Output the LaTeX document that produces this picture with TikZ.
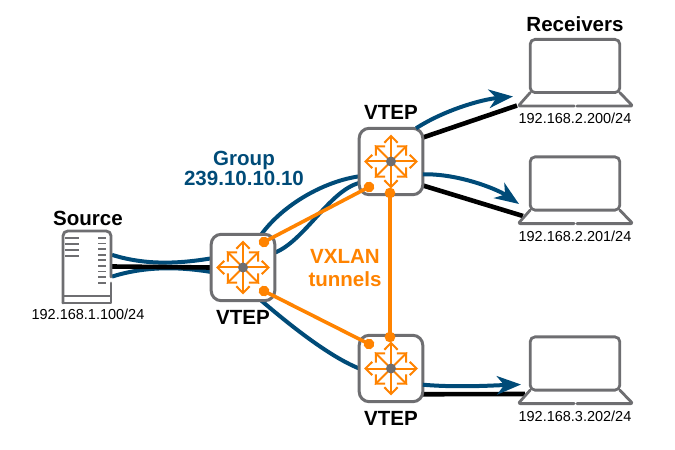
\documentclass[tikz,border=0pt]{standalone}
\usepackage{xcolor}
\usepackage{fontspec}
\setmainfont{Liberation Sans}
\usetikzlibrary{arrows.meta,calc,backgrounds}
\definecolor{mcastblue}{RGB}{0, 75, 120}
\definecolor{tunnelorange}{RGB}{255, 131, 0}
\definecolor{icongray}{RGB}{110, 110, 113}
\tikzset{
    routerbox/.style={draw=icongray, fill=white, line width=0.75mm, rounded corners=2.5mm, minimum width=15.9mm, minimum height=16.6mm, inner sep=0pt, outer sep=0pt},
    screenbox/.style={draw=icongray, fill=white, line width=0.7mm, rounded corners=1.2mm, minimum width=22.4mm, minimum height=13.3mm, inner sep=0pt, outer sep=0pt},
    serverbox/.style={fill=white, minimum width=12.5mm, minimum height=18.25mm, inner sep=0pt, outer sep=0pt},
    iconline/.style={draw=icongray, line width=0.7mm, line cap=round, line join=round},
    ventline/.style={draw=icongray, line width=0.45mm},
    routerarrow/.style={draw=tunnelorange, line width=0.5mm, -{Straight Barb[length=1.7mm, width=3.3mm]}},
    mcast/.style={draw=mcastblue, line width=1mm},
    mcasthead/.style={mcast, -{Stealth[length=6mm, width=4.6mm, inset=1.8mm]}},
    unicast/.style={draw=black, line width=1.15mm},
    tunnel/.style={draw=tunnelorange, line width=0.9mm, shorten >=-1.3mm, shorten <=-1.3mm, {Circle[length=2.6mm]}-{Circle[length=2.6mm]}},
    iplabel/.style={font=\fontsize{10.3}{12}\selectfont, inner sep=0pt},
    namelabel/.style={font=\fontsize{14.6}{14}\selectfont\bfseries, inner sep=0pt},
    grouplabel/.style={namelabel, align=center, text=mcastblue},
    tunnellabel/.style={font=\fontsize{14.6}{17}\selectfont\bfseries, inner sep=0pt, align=center, text=tunnelorange},
}
\newcommand{\routericon}[1]{
    \foreach \ang in {0,90,180,270} {\draw[routerarrow] (#1.center) -- ++(\ang:27);}
    \foreach \ang in {45,135,225,315} {\draw[routerarrow] (#1.center) -- ++(\ang:23);}
    \fill[icongray] (#1.center) circle (1.25mm);
}
\newcommand{\laptopicon}[1]{
    \draw[iconline, rounded corners=0.5mm] ($(#1.south west)+(0,0)$) -- ++(-12,13.5) -- ++(56,0);
    \draw[iconline, rounded corners=0.5mm] ($(#1.south east)+(0,0)$) -- ++(13,13.5) -- ++(-56,0);
}

\begin{document}
\begin{tikzpicture}[x=0.25mm, y=-0.25mm]
    \useasboundingbox (0,0) rectangle (675,450);

    % devices
    \node[serverbox] (source) at (87,266.5) {};
    \node[routerbox] (vtepl) at (243,267.5) {};
    \node[routerbox] (vtept) at (391,161.5) {};
    \node[routerbox] (vtepb) at (391,368.5) {};
    \node[screenbox] (lapa) at (575,66) {};
    \node[screenbox] (lapb) at (575,183.5) {};
    \node[screenbox] (lapc) at (575,363.5) {};

    % ends of the links at the laptops
    \coordinate (tipa) at (513,96.5);
    \coordinate (tipb) at (519,204);
    \coordinate (tipc) at (521,384.5);
    \coordinate (basea) at (517,105.5);
    \coordinate (baseb) at (523,216);
    \coordinate (basec) at (525,394);

    \begin{scope}[on background layer]
        \draw[mcast] (source.25) .. controls +(38,12) and +(-25,4) .. (vtepl.164);
        \draw[mcast] (source.-22) .. controls +(38,-12) and +(-25,-4) .. (vtepl.188);
        \draw[unicast] (source.east) -- (vtepl.west);
        \draw[mcast] (vtepl.61) .. controls +(22,-30) and +(-35,5) .. (vtept.205);
        \draw[mcast] (vtepl.25) .. controls +(30,-12) and +(-30,8) .. (vtept.214);
        \draw[mcast] (vtepl.-61) .. controls +(28,24) and +(-30,-12) .. (vtepb.west);
        \draw[unicast] (vtept.37) -- (basea);
        \draw[unicast] (vtept.-37) -- (baseb);
        \draw[unicast] (vtepb.-39) -- (basec);
    \end{scope}
    \draw[mcasthead] (vtept.53) .. controls +(28,-18) and +(-32,3) .. (tipa);
    \draw[mcasthead] (vtept.-22) .. controls +(35,-1) and +(-22,-15) .. (tipb);
    \draw[mcasthead] (vtepb.-27) .. controls +(35,3) and +(-30,1) .. (tipc);

    % server
    \draw[iconline, rounded corners=1.2mm] (63,303) -- (63,231) -- (111,231) -- (111,277);
    \draw[iconline] (63,303) -- (111,303) -- (111,283);
    \draw[ventline] (63,296) -- (111,296);
    \foreach \y in {238,244,250,256} {\draw[ventline] (65,\y) -- (79,\y);}
    \foreach \y in {238,243.6,...,284} {\draw[ventline] (98,\y) -- (106,\y);}

    % laptops
    \laptopicon{lapa}
    \laptopicon{lapb}
    \laptopicon{lapc}

    % switching fabric icons
    \routericon{vtepl}
    \routericon{vtept}
    \routericon{vtepb}

    % tunnels
    \draw[tunnel] ($(vtepl)+(21,-25.5)$) -- ($(vtept)+(-22,25.5)$);
    \draw[tunnel] ($(vtepl)+(21,23.5)$) -- ($(vtepb)+(-22,-24.5)$);
    \draw[tunnel] ($(vtept)+(-1,31.5)$) -- ($(vtepb)+(-1,-31.5)$);

    % labels
    \node[namelabel] (srcname) at (88,218) {Source};
    \node[namelabel] (rxname) at (575,24) {Receivers};
    \node[namelabel] (vteptname) at (391,112) {VTEP};
    \node[namelabel] (vteplname) at (243,317) {VTEP};
    \node[namelabel] (vtepbname) at (391,418) {VTEP};
    \node[grouplabel] (groupname) at (244,168.5) {Group\\239.10.10.10};
    \node[tunnellabel] (tunnelname) at (345,268) {VXLAN\\tunnels};
    \node[iplabel] (srcip) at (88,314) {192.168.1.100/24};
    \node[iplabel] (ipa) at (575,118) {192.168.2.200/24};
    \node[iplabel] (ipb) at (575,236) {192.168.2.201/24};
    \node[iplabel] (ipc) at (575,416) {192.168.3.202/24};
\end{tikzpicture}
\end{document}
